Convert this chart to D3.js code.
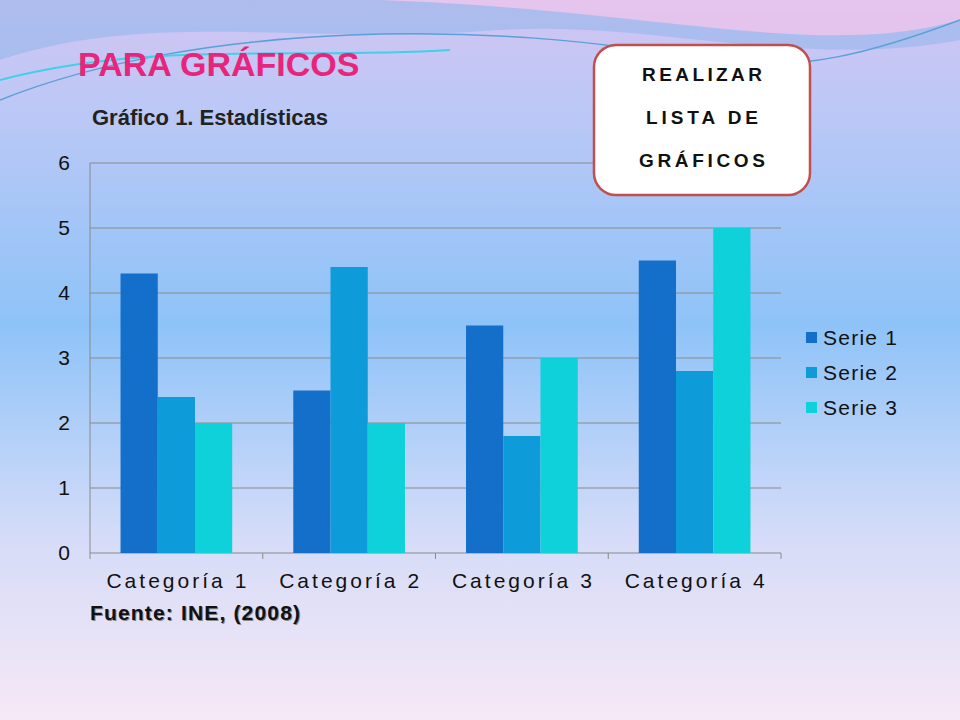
<!DOCTYPE html><html><head><meta charset="utf-8">
<script src="https://d3js.org/d3.v7.min.js"></script>
<style>body{margin:0}svg{display:block}</style></head><body>
<script>
const categories=["Categoría 1","Categoría 2","Categoría 3","Categoría 4"];
const seriesNames=["Serie 1","Serie 2","Serie 3"];
const serie1=[4.3,2.5,3.5,4.5];
const serie2=[2.4,4.4,1.8,2.8];
const serie3=[2,2,3,5];
const yTicks=[0,1,2,3,4,5,6];
const colors=["#136fc9","#0d9bd9","#0fd1d9"];
const series=[serie1,serie2,serie3];
const F="Liberation Sans, Arial";

const svg=d3.select("body").append("svg").attr("width",960).attr("height",720);
const defs=svg.append("defs");
const g=defs.append("linearGradient").attr("id","bg").attr("x1",0).attr("y1",0).attr("x2",0).attr("y2",1);
[[0,"#d2c4f2"],[0.15,"#bcc8f6"],[0.45,"#8ec3f8"],[0.75,"#d6dcf8"],[1,"#f6e8f6"]].forEach(s=>g.append("stop").attr("offset",s[0]).attr("stop-color",s[1]));
svg.append("rect").attr("width",960).attr("height",720).attr("fill","url(#bg)");
svg.append("path").attr("d","M0,0 L960,0 L960,40 C800,70 650,20 500,30 C300,45 150,10 0,60 Z").attr("fill","#8fb6ea").attr("opacity",0.55);
svg.append("path").attr("d","M380,0 L960,0 L960,20 C820,60 660,10 380,0 Z").attr("fill","#f3c6ec").attr("opacity",0.8);
svg.append("path").attr("d","M0,100 C200,20 500,20 700,60 C800,75 880,50 960,20").attr("fill","none").attr("stroke","#5aa0d8").attr("stroke-width",1.5);
svg.append("path").attr("d","M0,80 C150,40 300,60 450,50").attr("fill","none").attr("stroke","#42d0e8").attr("stroke-width",2);

svg.append("text").attr("x",78).attr("y",76).text("PARA GRÁFICOS").attr("font-family",F).attr("font-weight","bold").attr("font-size",34).attr("fill","#e8257d");
svg.append("text").attr("x",92).attr("y",125).text("Gráfico 1. Estadísticas").attr("font-family",F).attr("font-weight","bold").attr("font-size",22).attr("fill","#222");

const x0=d3.scaleBand().domain(categories).range([90,781]);
const y=d3.scaleLinear().domain([0,6]).range([553,163]);
const x1=d3.scaleBand().domain(seriesNames).range([0,x0.bandwidth()]).paddingInner(0).paddingOuter(0.82);

const plot=svg.append("g");
plot.selectAll(".grid").data(yTicks).join("line").attr("x1",90).attr("x2",781).attr("y1",d=>y(d)).attr("y2",d=>y(d)).attr("stroke","#8a8a8a").attr("stroke-width",1);
plot.append("line").attr("x1",90).attr("x2",90).attr("y1",163).attr("y2",553).attr("stroke","#8a8a8a");
categories.forEach(c=>plot.append("line").attr("x1",x0(c)).attr("x2",x0(c)).attr("y1",553).attr("y2",559).attr("stroke","#8a8a8a"));
plot.append("line").attr("x1",781).attr("x2",781).attr("y1",553).attr("y2",559).attr("stroke","#8a8a8a");
plot.selectAll(".yl").data(yTicks).join("text").attr("x",70).attr("y",d=>y(d)+7).attr("text-anchor","end").text(d=>d).attr("font-family",F).attr("font-size",21).attr("fill","#111");
plot.selectAll(".xl").data(categories).join("text").attr("x",d=>x0(d)+x0.bandwidth()/2).attr("y",588).attr("text-anchor","middle").text(d=>d).attr("font-family",F).attr("font-size",21).attr("textLength",140).attr("fill","#111");

series.forEach((s,si)=>{
  plot.selectAll(".b"+si).data(s).join("rect")
   .attr("x",(d,i)=>x0(categories[i])+x1(seriesNames[si]))
   .attr("width",x1.bandwidth()).attr("y",d=>y(d)).attr("height",d=>553-y(d)).attr("fill",colors[si]);
});
seriesNames.forEach((n,i)=>{
  svg.append("rect").attr("x",806).attr("y",332+i*35).attr("width",11).attr("height",11).attr("fill",colors[i]);
  svg.append("text").attr("x",823).attr("y",345+i*35).text(n).attr("font-family",F).attr("font-size",21).attr("textLength",74).attr("fill","#111");
});
svg.append("text").attr("x",91).attr("y",621).text("Fuente: INE, (2008)").attr("font-family",F).attr("font-weight","bold").attr("font-size",21).attr("textLength",210).attr("fill","#888");
svg.append("text").attr("x",90).attr("y",620).text("Fuente: INE, (2008)").attr("font-family",F).attr("font-weight","bold").attr("font-size",21).attr("textLength",210).attr("fill","#111");
svg.append("rect").attr("x",594).attr("y",45).attr("width",216).attr("height",150).attr("rx",22).attr("fill","#fff").attr("stroke","#c0504d").attr("stroke-width",2.5);
[["REALIZAR",120],["LISTA  DE",112],["GRÁFICOS",126]].forEach((t,i)=>svg.append("text").attr("x",702).attr("y",81+i*43).attr("text-anchor","middle").text(t[0]).attr("font-family",F).attr("font-weight","bold").attr("font-size",19).attr("textLength",t[1]).attr("fill","#111"));
</script></body></html>
